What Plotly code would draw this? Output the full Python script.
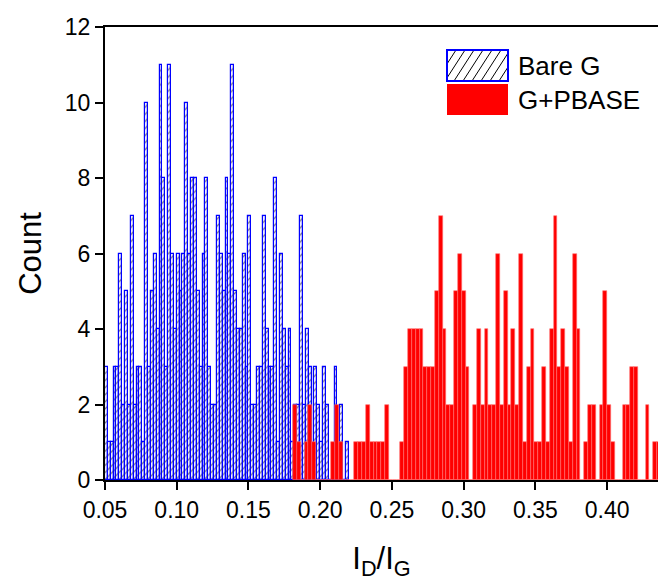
import plotly.graph_objects as go

# ---------------- data ----------------
bare_start = 0.051     # centre of first Bare G bin
bare_width = 0.002
bare_counts = [3, 1, 1, 3, 3, 6, 2, 5, 2, 7, 2, 3, 3, 1, 10, 3, 5, 6, 4, 11,
               8, 3, 11, 6, 4, 6, 5, 6, 10, 6, 8, 8, 5, 3, 6, 8, 3, 2, 2, 7,
               6, 5, 8, 6, 11, 5, 4, 4, 6, 3, 7, 2, 2, 3, 3, 7, 4, 3, 3, 8,
               1, 6, 4, 3, 4, 1, 2, 2, 7, 2, 4, 3, 0, 3, 2, 1, 3, 2, 0, 0,
               3, 0, 2, 0, 1]

pbase_start = 0.1825   # centre of first G+PBASE bin
pbase_width = 0.00267
pbase_counts = [2, 1, 0, 1, 2, 1, 0, 0, 0, 0, 1, 2, 1, 0, 0, 0, 1, 1, 1, 2,
                1, 1, 1, 1, 2, 0, 0, 0, 1, 3, 4, 4, 4, 4, 3, 3, 3, 5, 7, 4,
                2, 2, 5, 6, 5, 3, 0, 2, 4, 2, 4, 2, 2, 6, 2, 5, 2, 4, 2, 6,
                1, 3, 4, 1, 1, 3, 1, 4, 7, 3, 4, 3, 1, 6, 4, 0, 1, 2, 2, 0,
                2, 5, 2, 1, 0, 0, 2, 2, 3, 3, 0, 0, 2, 0, 1, 1]

x_ticks = [0.05, 0.10, 0.15, 0.20, 0.25, 0.30, 0.35, 0.40]
x_tick_labels = ["0.05", "0.10", "0.15", "0.20", "0.25", "0.30", "0.35", "0.40"]
y_ticks = [0, 2, 4, 6, 8, 10, 12]
legend_names = ["Bare G", "G+PBASE"]

bare_x = [bare_start + i * bare_width for i in range(len(bare_counts))]
pbase_x = [pbase_start + i * pbase_width for i in range(len(pbase_counts))]

FONT = "Arial, 'Liberation Sans', sans-serif"

fig = go.Figure()
fig.add_trace(go.Bar(
    x=bare_x, y=bare_counts, width=bare_width, name=legend_names[0],
    marker=dict(color="#eeeeff", line=dict(color="#0000ff", width=1.2),
                pattern=dict(shape="/", fgcolor="black", bgcolor="#eeeeff",
                             size=5, solidity=0.25)),
    showlegend=False,
))
fig.add_trace(go.Bar(
    x=pbase_x, y=pbase_counts, width=pbase_width, name=legend_names[1],
    marker=dict(color="#ff0000", line=dict(color="#ff7070", width=0.6)),
    showlegend=False,
))

# -------- manual legend (paper coords from pixel positions) --------
L, R, T, B = 105, 2, 27, 103
W, H = 660, 583
pw, ph = W - L - R, H - T - B


def px(x):
    return (x - L) / pw


def py(y):
    return (H - B - y) / ph


shapes = []
bx0, bx1, by0, by1 = 447, 508, 50, 81
# hatch lines
dx = 20
for o in range(-20, 62, 9):
    x0 = bx0 + o
    tmin = max(0.0, (bx0 - x0) / dx)
    tmax = min(1.0, (bx1 - x0) / dx)
    if tmax <= tmin:
        continue
    xa, ya = x0 + dx * tmin, by1 - (by1 - by0) * tmin
    xb, yb = x0 + dx * tmax, by1 - (by1 - by0) * tmax
    shapes.append(dict(type="line", xref="paper", yref="paper",
                       x0=px(xa), y0=py(ya), x1=px(xb), y1=py(yb),
                       line=dict(color="black", width=1)))
shapes.append(dict(type="rect", xref="paper", yref="paper",
                   x0=px(bx0), x1=px(bx1), y0=py(by1), y1=py(by0),
                   line=dict(color="#0000ff", width=2), fillcolor="rgba(0,0,0,0)"))
shapes.append(dict(type="rect", xref="paper", yref="paper",
                   x0=px(bx0), x1=px(bx1), y0=py(115), y1=py(84),
                   line=dict(color="#ff0000", width=0), fillcolor="#ff0000"))

annotations = [
    dict(text=legend_names[0], xref="paper", yref="paper", x=px(516), y=py(66),
         xanchor="left", yanchor="middle", showarrow=False,
         font=dict(family=FONT, size=26, color="black")),
    dict(text=legend_names[1], xref="paper", yref="paper", x=px(516), y=py(100),
         xanchor="left", yanchor="middle", showarrow=False,
         font=dict(family=FONT, size=26, color="black")),
]

fig.update_layout(
    width=W, height=H,
    margin=dict(l=L, r=R, t=T, b=B),
    paper_bgcolor="white", plot_bgcolor="white",
    barmode="overlay", bargap=0,
    shapes=shapes, annotations=annotations,
    font=dict(family=FONT, color="black"),
    xaxis=dict(range=[0.05, 0.4355], tickvals=x_ticks, ticktext=x_tick_labels,
               ticks="outside", ticklen=8, tickwidth=2, tickcolor="black",
               showline=True, linewidth=2, linecolor="black", mirror=True,
               showgrid=False, zeroline=False,
               tickfont=dict(family=FONT, size=23),
               title=dict(text="I<sub>D</sub>/I<sub>G</sub>", standoff=26,
                          font=dict(family=FONT, size=31))),
    yaxis=dict(range=[0, 12], tickvals=y_ticks,
               ticks="outside", ticklen=8, tickwidth=2, tickcolor="black",
               showline=True, linewidth=2, linecolor="black",
               showgrid=False, zeroline=False,
               tickfont=dict(family=FONT, size=23),
               title=dict(text="Count", standoff=14,
                          font=dict(family=FONT, size=31))),
)

fig.write_html("out.html")
